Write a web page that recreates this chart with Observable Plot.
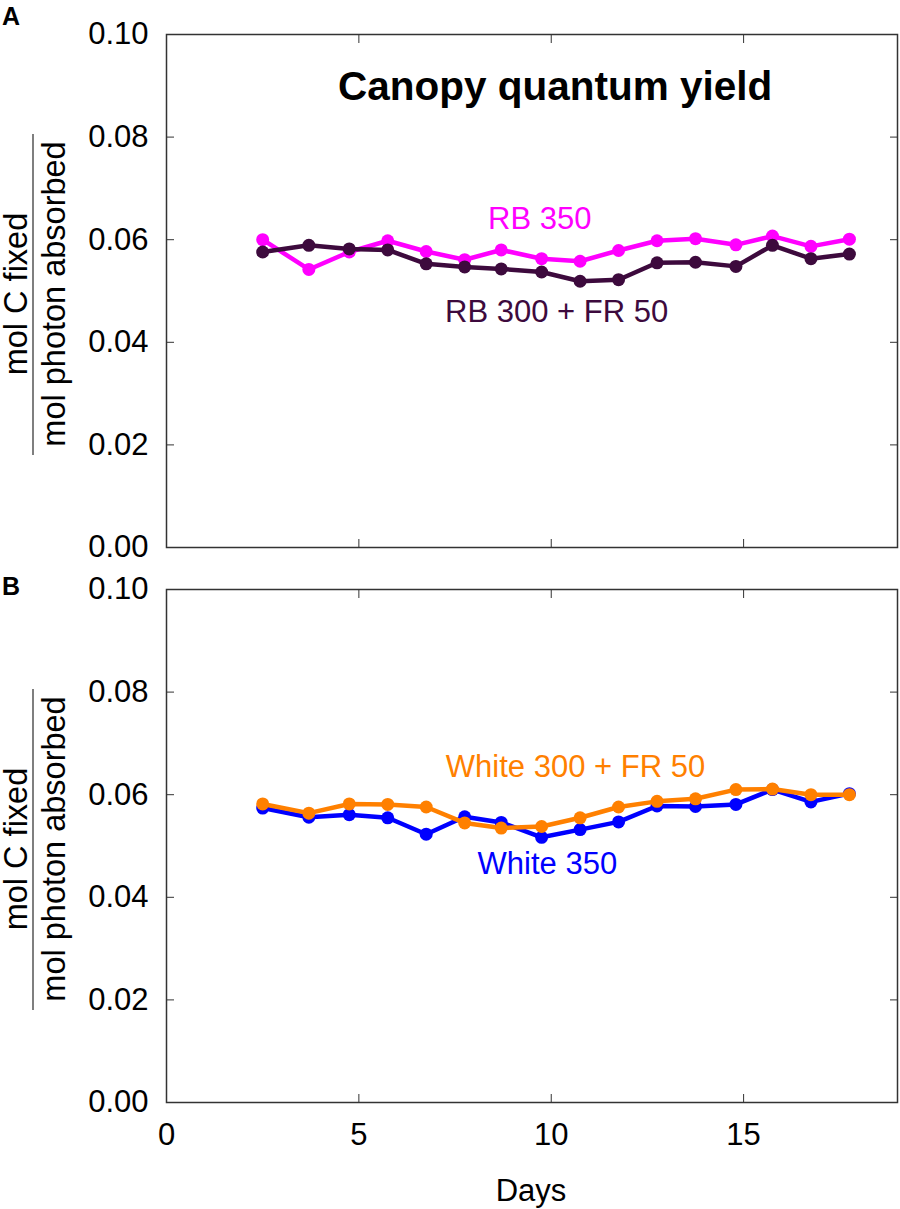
<!DOCTYPE html>
<html>
<head>
<meta charset="utf-8">
<script src="https://cdn.jsdelivr.net/npm/d3@7"></script>
<script src="https://cdn.jsdelivr.net/npm/@observablehq/plot@0.6"></script>
<style>
  body { margin: 0; background: #fff; }
  #chart { width: 900px; height: 1209px; }
  #chart svg { display: block; }
</style>
</head>
<body>
<div id="chart"></div>
<script>
// Days after planting (same for all four treatments)
var days = [2.5, 3.7, 4.75, 5.75, 6.75, 7.75, 8.7, 9.75, 10.75, 11.75, 12.75, 13.75, 14.8, 15.75, 16.75, 17.75];

// Panel A
var rb350 = [0.0600, 0.0542, 0.0576, 0.0598, 0.0577, 0.0561, 0.0580, 0.0563, 0.0558, 0.0579, 0.0598, 0.0602, 0.0590, 0.0607, 0.0587, 0.0601];
var rb300fr50 = [0.0576, 0.0589, 0.0582, 0.0580, 0.0553, 0.0547, 0.0543, 0.0537, 0.0519, 0.0522, 0.0555, 0.0556, 0.0548, 0.0589, 0.0563, 0.0572];

// Panel B
var white350 = [0.0574, 0.0556, 0.0561, 0.0555, 0.0523, 0.0557, 0.0546, 0.0517, 0.0532, 0.0547, 0.0578, 0.0577, 0.0581, 0.0610, 0.0586, 0.0602];
var white300fr50 = [0.0582, 0.0564, 0.0582, 0.0581, 0.0576, 0.0545, 0.0535, 0.0538, 0.0555, 0.0576, 0.0587, 0.0592, 0.0610, 0.0611, 0.0600, 0.0600];

var xTicks = [0, 5, 10, 15];
var yTicks = [0, 0.02, 0.04, 0.06, 0.08, 0.10];

var FONT = "'Liberation Sans', Arial, Helvetica, sans-serif";
var AXIS = "#333";

function toRows(values) {
  return days.map(function(d, i) { return {day: d, value: values[i]}; });
}

function seriesMarks(values, color) {
  var rows = toRows(values);
  return [
    Plot.line(rows, {x: "day", y: "value", stroke: color, strokeWidth: 4.5}),
    Plot.dot(rows, {x: "day", y: "value", fill: color, r: 6.5})
  ];
}

function makePanel(opts) {
  var svg = Plot.plot({
    width: 900,
    height: opts.height,
    marginTop: opts.marginTop,
    marginBottom: opts.marginBottom,
    marginLeft: 166,
    marginRight: 3,
    style: {fontFamily: FONT, fontSize: "31px", color: "#000", background: "#fff", overflow: "visible"},
    x: {domain: [0, 19], label: null},
    y: {domain: [0, 0.1], label: null},
    marks: [
      Plot.axisY(yTicks, {anchor: "left", tickSize: -8, tickPadding: 26, tickFormat: d3.format(".2f"), stroke: AXIS, label: null}),
      Plot.axisY(yTicks, {anchor: "right", tickSize: -8, tickFormat: function() { return ""; }, stroke: AXIS, label: null}),
      Plot.axisX(xTicks, {anchor: "top", tickSize: -8, tickFormat: function() { return ""; }, stroke: AXIS, label: null}),
      Plot.axisX(xTicks, {anchor: "bottom", tickSize: -8, tickPadding: 28, stroke: AXIS, label: null,
        tickFormat: opts.showX ? function(d) { return d; } : function() { return ""; }}),
      Plot.frame({stroke: AXIS, strokeWidth: 1.5})
    ].concat(opts.marks)
  });

  var s = d3.select(svg);
  var cy = opts.labelCenter;

  // stacked y label: "mol C fixed" over "mol photon absorbed"
  s.append("text")
    .attr("transform", "translate(27," + cy + ") rotate(-90)")
    .attr("text-anchor", "middle")
    .attr("font-family", FONT).attr("font-size", 32.5)
    .text("mol C fixed");
  s.append("line")
    .attr("x1", 33).attr("x2", 33)
    .attr("y1", cy - 160).attr("y2", cy + 161)
    .attr("stroke", "#555").attr("stroke-width", 1.5);
  s.append("text")
    .attr("transform", "translate(65," + cy + ") rotate(-90)")
    .attr("text-anchor", "middle")
    .attr("font-family", FONT).attr("font-size", 32.5)
    .text("mol photon absorbed");

  // panel letter
  s.append("text")
    .attr("x", 2).attr("y", opts.letterY)
    .attr("text-anchor", "start")
    .attr("font-family", FONT).attr("font-size", 25).attr("font-weight", "bold")
    .text(opts.letter);

  if (opts.showX) {
    s.append("text")
      .attr("x", 531).attr("y", opts.height - 8)
      .attr("text-anchor", "middle")
      .attr("font-family", FONT).attr("font-size", 31)
      .text("Days");
  }
  return svg;
}

var el = document.getElementById("chart");

var panelA = makePanel({
  height: 560, marginTop: 34, marginBottom: 13,
  showX: false, letter: "A", letterY: 25, labelCenter: 294,
  marks: [].concat(
    seriesMarks(rb350, "#ff00ff"),
    seriesMarks(rb300fr50, "#3d0a3d"),
    [
      Plot.text(["Canopy quantum yield"], {x: 10.1, y: 0.0898, text: function(d) { return d; }, fontSize: 40.5, fontWeight: "bold", fill: "#000"}),
      Plot.text(["RB 350"], {x: 9.7, y: 0.0641, text: function(d) { return d; }, fill: "#ff00ff"}),
      Plot.text(["RB 300 + FR 50"], {x: 10.14, y: 0.0459, text: function(d) { return d; }, fill: "#3d0a3d"})
    ]
  )
});

var panelB = makePanel({
  height: 649, marginTop: 29, marginBottom: 107,
  showX: true, letter: "B", letterY: 35, labelCenter: 289,
  marks: [].concat(
    seriesMarks(white350, "#0000ff"),
    seriesMarks(white300fr50, "#ff8000"),
    [
      Plot.text(["White 300 + FR 50"], {x: 10.63, y: 0.0653, text: function(d) { return d; }, fill: "#ff8000"}),
      Plot.text(["White 350"], {x: 9.9, y: 0.0464, text: function(d) { return d; }, fill: "#0000ff"})
    ]
  )
});

el.appendChild(panelA);
el.appendChild(panelB);
</script>
</body>
</html>
